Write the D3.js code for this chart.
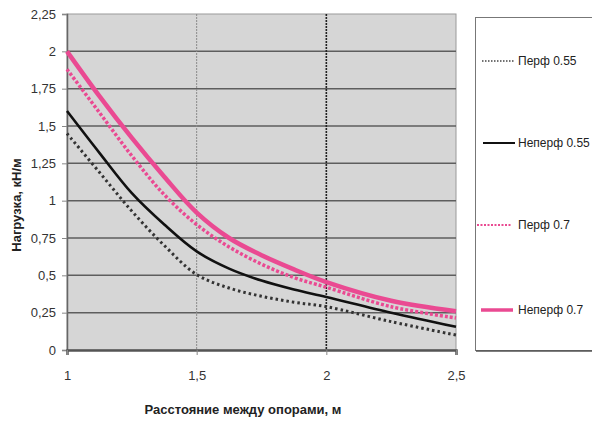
<!DOCTYPE html>
<html><head><meta charset="utf-8">
<script src="https://cdn.jsdelivr.net/npm/d3@7"></script>
<style>
body{margin:0;background:#fff;}
text{font-family:"Liberation Sans Narrow","Liberation Sans",Arial,sans-serif;}
</style></head>
<body><svg id="c" width="592" height="423"></svg>
<script>
const xValues = [1, 1.125, 1.25, 1.375, 1.5, 1.625, 1.75, 1.875, 2, 2.25, 2.5];
const perf055   = [1.45, 1.19, 0.93, 0.70, 0.505, 0.415, 0.36, 0.32, 0.29, 0.19, 0.10];
const neperf055 = [1.60, 1.32, 1.05, 0.84, 0.66, 0.545, 0.465, 0.405, 0.355, 0.25, 0.155];
const perf07    = [1.88, 1.59, 1.30, 1.04, 0.84, 0.69, 0.575, 0.485, 0.42, 0.29, 0.215];
const neperf07  = [2.00, 1.70, 1.42, 1.16, 0.92, 0.75, 0.635, 0.54, 0.455, 0.33, 0.26];
const seriesNames = ["Перф 0.55", "Неперф 0.55", "Перф 0.7", "Неперф 0.7"];
const yTicks = [0, 0.25, 0.5, 0.75, 1, 1.25, 1.5, 1.75, 2, 2.25];
const yTickLabels = ["0", "0,25", "0,5", "0,75", "1", "1,25", "1,5", "1,75", "2", "2,25"];
const xTicks = [1, 1.5, 2, 2.5];
const xTickLabels = ["1", "1,5", "2", "2,5"];

const svg = d3.select("#c");
const x = d3.scaleLinear().domain([1, 2.5]).range([67, 456]);
const y = d3.scaleLinear().domain([0, 2.25]).range([350, 14]);

svg.append("rect").attr("x", x(1)).attr("y", y(2.25))
  .attr("width", x(2.5) - x(1)).attr("height", y(0) - y(2.25))
  .attr("fill", "#d6d6d6").attr("stroke", "#9a9a9a").attr("stroke-width", 1);

svg.append("g").selectAll("line").data(yTicks.filter(d => d > 0 && d < 2.25)).join("line")
  .attr("x1", x(1)).attr("x2", x(2.5)).attr("y1", d => y(d)).attr("y2", d => y(d))
  .attr("stroke", "#5e5e5e").attr("stroke-width", 1.5);
svg.append("line").attr("x1", x(1.5)).attr("x2", x(1.5)).attr("y1", y(2.25)).attr("y2", y(0))
  .attr("stroke", "#8a8a8a").attr("stroke-width", 1).attr("stroke-dasharray", "2,1");
svg.append("line").attr("x1", x(2)).attr("x2", x(2)).attr("y1", y(2.25)).attr("y2", y(0))
  .attr("stroke", "#222").attr("stroke-width", 1.6).attr("stroke-dasharray", "2,1");

const yAxis = d3.axisLeft(y).tickValues(yTicks).tickFormat((d, i) => yTickLabels[i]).tickSize(5).tickPadding(6);
const gy = svg.append("g").attr("transform", `translate(${x(1)},0)`).call(yAxis);
gy.select(".domain").attr("stroke", "#666").attr("stroke-width", 1.5);
gy.selectAll(".tick line").attr("stroke", "#888");
gy.selectAll("text").attr("font-size", 13).attr("fill", "#333");

const xAxis = d3.axisBottom(x).tickValues(xTicks).tickFormat((d, i) => xTickLabels[i]).tickSize(5).tickPadding(16);
const gx = svg.append("g").attr("transform", `translate(0,${y(0)})`).call(xAxis);
gx.select(".domain").attr("stroke", "#555").attr("stroke-width", 2.5);
gx.selectAll(".tick line").attr("stroke", "#888");
gx.selectAll("text").attr("font-size", 13).attr("fill", "#333");

svg.append("text").attr("transform", "translate(21,205) rotate(-90)")
  .attr("text-anchor", "middle").attr("font-size", 13).attr("font-weight", "bold").attr("fill", "#222")
  .text("Нагрузка, кН/м");
svg.append("text").attr("x", 243).attr("y", 414)
  .attr("text-anchor", "middle").attr("font-size", 13).attr("font-weight", "bold").attr("fill", "#222")
  .text("Расстояние между опорами, м");

const pink = "#ea4a92";
const styles = [
  {data: perf055, color: "#333", width: 3, dash: "2.5,3"},
  {data: neperf055, color: "#111", width: 2.6, dash: null},
  {data: perf07, color: pink, width: 3.5, dash: "3,2"},
  {data: neperf07, color: pink, width: 4.5, dash: null}
];
const line = d3.line().x((d, i) => x(xValues[i])).y(d => y(d)).curve(d3.curveCatmullRom.alpha(0.5));
styles.forEach(s => {
  svg.append("path").attr("d", line(s.data)).attr("fill", "none")
    .attr("stroke", s.color).attr("stroke-width", s.width)
    .attr("stroke-dasharray", s.dash);
});

svg.append("rect").attr("x", 475.5).attr("y", 17.5).attr("width", 130).attr("height", 333)
  .attr("fill", "#fff").attr("stroke", "#777").attr("stroke-width", 1);
svg.append("line").attr("x1", 476).attr("x2", 592).attr("y1", 351).attr("y2", 351).attr("stroke", "#555").attr("stroke-width", 1.5);
const legY = [61, 143, 225, 310];
const legStyles = [
  {color: "#444", width: 1.6, dash: "1.5,1.5", x1: 482, x2: 515},
  {color: "#111", width: 2, dash: null, x1: 483, x2: 515},
  {color: pink, width: 2, dash: "2,1.5", x1: 477, x2: 512},
  {color: pink, width: 3.5, dash: null, x1: 481, x2: 513}
];
seriesNames.forEach((n, i) => {
  const s = legStyles[i];
  svg.append("line").attr("x1", s.x1).attr("x2", s.x2).attr("y1", legY[i]).attr("y2", legY[i])
    .attr("stroke", s.color).attr("stroke-width", s.width).attr("stroke-dasharray", s.dash);
  svg.append("text").attr("x", 518).attr("y", legY[i] + 4).attr("font-size", 12)
    .attr("fill", "#222").text(n);
});
</script></body></html>
